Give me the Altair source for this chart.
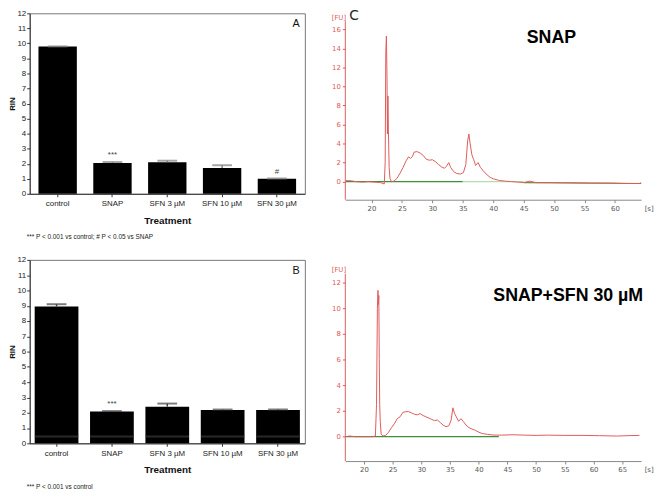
import altair as alt
import pandas as pd

# ---------------- bar charts (A, B) ----------------
categories = ["control", "SNAP", "SFN 3 µM", "SFN 10 µM", "SFN 30 µM"]
rin_a = [9.8, 2.05, 2.1, 1.72, 1.0]
err_a = [0.0, 0.06, 0.1, 0.18, 0.02]
sig_a = ["", "***", "", "", "#"]
rin_b = [8.95, 2.08, 2.4, 2.18, 2.18]
err_b = [0.15, 0.03, 0.2, 0.03, 0.03]
sig_b = ["", "***", "", "", ""]
stripe_b = [0.45, 0.45, 0.45, 0.45, 0.45]
rin_ticks = list(range(13))

# ---------------- electropherograms (C) ----------------
snap_x = [15.8, 16.5, 17.5, 18.5, 19.5, 20.5, 21.5, 22.1, 22.25, 22.35,
          22.45, 22.55, 22.62, 22.7, 22.78, 22.9, 23.05, 23.3, 23.7, 24.2,
          24.7, 25.2, 25.7, 26.1, 26.4, 26.7, 27.0, 27.5, 28.0, 28.5,
          29.0, 29.5, 30.0, 30.5, 31.0, 31.5, 32.0, 32.3, 32.7, 33.0,
          33.5, 34.0, 34.6, 35.1, 35.5, 35.8, 36.0, 36.2, 36.5, 36.8,
          37.1, 37.5, 37.9, 38.4, 39.0, 39.5, 40.0, 41.0, 42.0, 43.0,
          44.0, 45.0, 46.0, 47.0, 50.0, 53.0, 56.0, 59.0, 62.0, 64.0,
          64.5]
snap_fu = [0.1, 0.1, 0.0, -0.05, 0.0, -0.05, -0.1, -0.25, 2.0, 13.5,
           15.3, 11.0, 5.0, 9.0, 5.5, 1.5, 0.3, 0.0, 0.05, 0.35,
           0.9, 1.5, 2.2, 2.6, 2.45, 2.6, 3.1, 3.15, 3.0, 2.75,
           2.35, 2.25, 2.3, 2.1, 1.8, 1.55, 1.4, 1.6, 2.0, 1.5,
           1.05, 0.85, 0.8, 0.95, 1.8, 4.3, 5.0, 4.0, 2.8, 2.3,
           1.7, 2.0, 1.5, 1.1, 0.7, 0.45, 0.3, 0.12, 0.05, 0.0,
           -0.05, -0.1, 0.05, -0.1, -0.1, -0.12, -0.15, -0.15, -0.2, -0.2,
           -0.05]

sfn_x = [16.8, 17.5, 18.5, 19.5, 20.5, 21.5, 22.0, 22.2, 22.35, 22.45,
         22.52, 22.6, 22.68, 22.75, 22.85, 23.0, 23.3, 23.8, 24.3, 24.8,
         25.3, 25.8, 26.3, 26.8, 27.3, 27.8, 28.3, 28.8, 29.3, 29.8,
         30.3, 30.8, 31.3, 31.8, 32.3, 32.8, 33.3, 33.8, 34.3, 34.8,
         35.2, 35.5, 35.8, 36.1, 36.5, 36.9, 37.3, 37.8, 38.3, 38.8,
         39.4, 40.0, 40.6, 41.5, 42.5, 44.0, 46.0, 48.0, 50.0, 52.0,
         55.0, 58.0, 61.0, 64.0, 66.0, 68.0]
sfn_fu = [0.0, 0.05, 0.0, 0.0, 0.0, 0.0, 0.05, 2.5, 10.0, 11.4,
          10.3, 11.0, 6.0, 2.5, 1.2, 0.2, 0.05, 0.1, 0.35, 0.7,
          1.0, 1.4, 1.55, 1.9, 1.95, 1.95, 1.85, 1.75, 1.7, 1.8,
          1.65, 1.55, 1.45, 1.35, 1.25, 1.3, 1.1, 0.9, 0.78, 0.85,
          1.3, 2.25, 1.8, 1.55, 1.2, 1.4, 1.2, 0.9, 0.7, 0.6,
          0.5, 0.35, 0.25, 0.18, 0.13, 0.12, 0.15, 0.12, 0.1, 0.12,
          0.1, 0.1, 0.08, 0.05, 0.08, 0.1]

# baselines (x extents, colour segment)
snap_base_x = [15.8, 35.0, 35.0, 45.0, 45.0, 64.5]
snap_base_y = [0.0, 0.0, 0.0, 0.0, -0.1, -0.2]
snap_base_seg = ["a", "a", "b", "b", "c", "c"]
sfn_base_x = [16.8, 43.5]
sfn_base_y = [0.0, 0.0]
sfn_base_seg = ["a", "a"]

# axis extents of the two electropherograms
snap_xdom = [15.7, 64.3]
snap_ydom = [-1.9, 16.85]
sfn_xdom = [16.76, 68.3]
sfn_ydom = [-1.9, 12.7]
snap_ticks_x = [20, 25, 30, 35, 40, 45, 50, 55, 60]
snap_ticks_y = [0, 2, 4, 6, 8, 10, 12, 14, 16]
sfn_ticks_x = [20, 25, 30, 35, 40, 45, 50, 55, 60, 65]
sfn_ticks_y = [0, 2, 4, 6, 8, 10, 12]

BAR_FONT = "Liberation Sans"
EP_FONT = "DejaVu Sans"
RED = "#e05a5a"


def bar_panel(values, errs, sigs, letter, footnote, width, height,
              pad_in, pad_out, stripes=None, cap_color="#808080", bar_w=39):
    df = pd.DataFrame({
        "cat": categories,
        "rin": values,
        "top": [v + e for v, e in zip(values, errs)],
        "sig": sigs,
    })
    if stripes is not None:
        df["stripe"] = stripes
    x = alt.X("cat:N", sort=categories,
              scale=alt.Scale(paddingInner=pad_in, paddingOuter=pad_out),
              axis=alt.Axis(title="Treatment", labelAngle=0, labelFontSize=8,
                            labelFont=BAR_FONT, titleFont=BAR_FONT,
                            titleFontSize=10, titleFontWeight="bold",
                            tickSize=3, titlePadding=8, labelPadding=3,
                            domainColor="#333", tickColor="#333",
                            labelColor="#222", titleColor="#111"))
    yaxis = alt.Axis(title="RIN", values=rin_ticks, labelOverlap=False,
                     labelFontSize=8, labelFont=BAR_FONT, titleFont=BAR_FONT,
                     titleFontSize=8, titleFontWeight="bold", tickSize=3,
                     titlePadding=0, labelPadding=1, domainColor="#333",
                     tickColor="#333", labelColor="#222", titleColor="#111",
                     grid=False)
    yscale = alt.Scale(domain=[0, 12], nice=False)

    def Y(field):
        return alt.Y(field, scale=yscale, axis=yaxis)

    base = alt.Chart(df)
    bars = base.mark_bar(color="black").encode(x=x, y=Y("rin:Q"))
    rule = base.mark_rule(color=cap_color, strokeWidth=1.5).encode(
        x=x, y=Y("rin:Q"), y2="top:Q")
    cap = base.mark_tick(color=cap_color, size=20, thickness=2).encode(
        x=x, y=Y("top:Q"))
    sig = base.mark_text(baseline="bottom", dy=-3, fontSize=8, font=BAR_FONT,
                         color="#444").encode(x=x, y=Y("top:Q"), text="sig:N")
    layers = [bars, rule, cap, sig]
    if stripes is not None:
        stripe = base.mark_tick(color="#3a3a3a", size=bar_w, thickness=2).encode(
            x=x, y=Y("stripe:Q"))
        layers.insert(1, stripe)
    let = alt.Chart(pd.DataFrame({"t": [letter]})).mark_text(
        fontSize=11, font=BAR_FONT, color="#111", align="center", baseline="middle"
    ).encode(x=alt.value(width - 9), y=alt.value(11), text="t:N")
    layers.append(let)
    return alt.layer(*layers).properties(
        width=width, height=height,
        view=alt.ViewBackground(stroke="#777", strokeWidth=1),
        title=alt.TitleParams(footnote, orient="bottom", anchor="start",
                              fontSize=6.5, fontWeight="normal", font=BAR_FONT,
                              color="#222", offset=9, frame="group", dx=-3),
    )


def ep_panel(xs, ys, bx, by, bseg, xdom, ydom, xt, yt, label, label_x, label_y,
             width, height, ext=0, letter=None):
    """ext: extra empty pixels above the top of the FU axis."""
    px_per_unit = height / (ydom[1] - ydom[0])
    ytop = ydom[1] + ext / px_per_unit
    tr = pd.DataFrame({"s": xs, "fu": ys})
    bl = pd.DataFrame({"s": bx, "fu": by, "seg": bseg})
    ax = pd.DataFrame({"s": [xdom[0]], "lo": [ydom[0]], "hi": [ydom[1]]})
    xaxis = alt.Axis(values=xt, labelOverlap=False, title="[s]", titleAngle=0,
                     titleFontSize=7, titleFontWeight="normal", titleFont=EP_FONT,
                     titleColor="#555", titleX=width + 3, titleY=9,
                     titleAlign="left", titleBaseline="middle",
                     labelFontSize=7, labelFont=EP_FONT, labelColor="#555",
                     domainColor="#888", tickColor="#888", tickSize=3,
                     labelPadding=2, grid=False)
    yaxis = alt.Axis(values=yt, labelOverlap=False, title="[FU]", titleAngle=0,
                     titleFontSize=7, titleFontWeight="normal", titleFont=EP_FONT,
                     titleColor=RED, titleX=-7, titleY=ext - 1,
                     titleAlign="center", titleBaseline="bottom",
                     labelFontSize=7, labelFont=EP_FONT, labelColor=RED,
                     domain=False, tickColor=RED, tickSize=3,
                     labelPadding=2, grid=False)
    xs_ = alt.Scale(domain=xdom, nice=False, zero=False)
    ys_ = alt.Scale(domain=[ydom[0], ytop], nice=False, zero=False)
    X = alt.X("s:Q", scale=xs_, axis=xaxis)
    Yq = alt.Y("fu:Q", scale=ys_, axis=yaxis)
    yline = alt.Chart(ax).mark_rule(color=RED, strokeWidth=1).encode(
        x=X, y=alt.Y("lo:Q", scale=ys_, axis=yaxis), y2="hi:Q")
    base_line = alt.Chart(bl).mark_line(strokeWidth=1.2, clip=True).encode(
        x=X, y=Yq,
        detail="seg:N",
        color=alt.Color("seg:N", legend=None,
                        scale=alt.Scale(domain=["a", "b", "c"],
                                        range=["#3d8f3d", "#b5dcb0", "#6f8a3a"])),
    )
    trace = alt.Chart(tr).mark_line(color=RED, strokeWidth=1, clip=True).encode(
        x=X, y=Yq)
    txt = alt.Chart(pd.DataFrame({"t": [label]})).mark_text(
        fontSize=18, fontWeight="bold", font="Liberation Sans", color="black",
        align="center", baseline="middle"
    ).encode(x=alt.value(label_x), y=alt.value(label_y), text="t:N")
    layers = [yline, base_line, trace, txt]
    if letter is not None:
        let = alt.Chart(pd.DataFrame({"t": [letter]})).mark_text(
            fontSize=14, font=EP_FONT, color="#222", align="center",
            baseline="top"
        ).encode(x=alt.value(9), y=alt.value(-4), text="t:N")
        layers.append(let)
    return alt.layer(*layers).properties(
        width=width, height=height + ext,
        view=alt.ViewBackground(stroke=None),
    )


panel_a = bar_panel(rin_a, err_a, sig_a, "A",
                    "*** P < 0.001 vs control; # P < 0.05 vs SNAP",
                    279, 183, 0.3, 0.16)
panel_b = bar_panel(rin_b, err_b, sig_b, "B", "*** P < 0.001 vs control",
                    279, 186, 0.21, 0.09, stripes=stripe_b,
                    cap_color="#444", bar_w=44)
panel_c = ep_panel(snap_x, snap_fu, snap_base_x, snap_base_y, snap_base_seg,
                   snap_xdom, snap_ydom, snap_ticks_x, snap_ticks_y,
                   "SNAP", 209, 25, 300, 181, ext=8, letter="C")
panel_d = ep_panel(sfn_x, sfn_fu, sfn_base_x, sfn_base_y, sfn_base_seg,
                   sfn_xdom, sfn_ydom, sfn_ticks_x, sfn_ticks_y,
                   "SNAP+SFN 30 µM", 226, 23, 300, 190)

left = alt.vconcat(panel_a, panel_b, spacing=14)
right = alt.vconcat(panel_c, panel_d, spacing=55)
chart = alt.concat(left, right, columns=2, spacing=25, align="none").properties(
    padding={"top": -3, "left": 0, "right": 0, "bottom": 0}
).configure(background="white").configure_view(stroke=None)

chart.save("out.html", embed_options={"renderer": "svg", "actions": False})
